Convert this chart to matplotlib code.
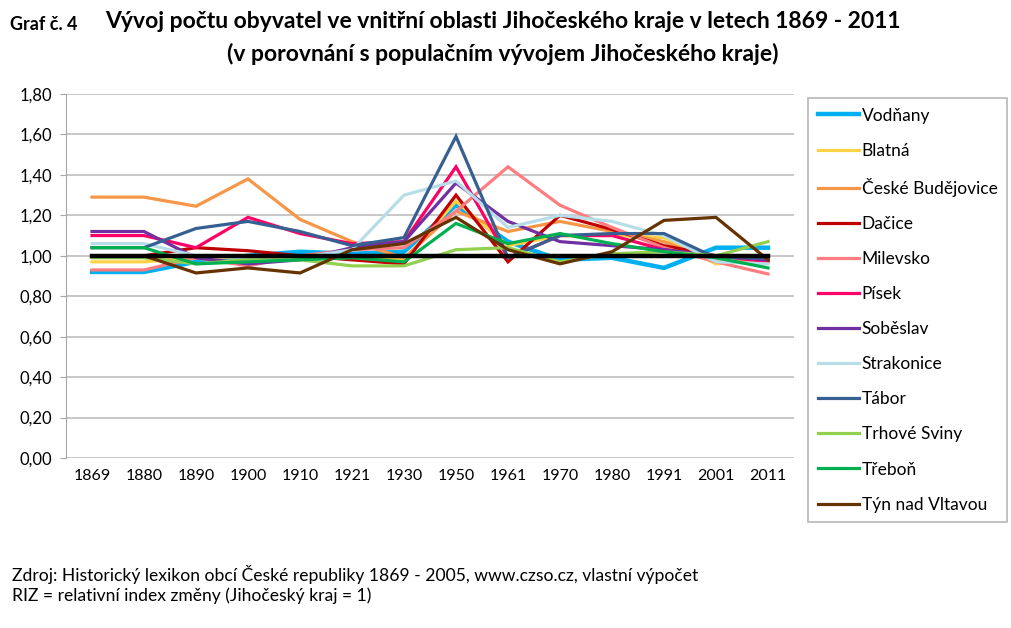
import matplotlib.pyplot as plt
import numpy as np

plt.rcParams['font.family'] = ['Lato', 'DejaVu Sans']

years = ['1869', '1880', '1890', '1900', '1910', '1921', '1930',
         '1950', '1961', '1970', '1980', '1991', '2001', '2011']

vodnany = [0.92, 0.92, 0.97, 1.00, 1.02, 1.01, 1.02, 1.25, 1.07, 0.98, 0.99, 0.94, 1.04, 1.04]
blatna = [0.97, 0.97, 0.99, 0.99, 1.00, 1.00, 0.98, 1.27, 1.05, 1.10, 1.10, 1.09, 0.96, 0.98]
budejovice = [1.29, 1.29, 1.245, 1.38, 1.18, 1.07, 0.99, 1.22, 1.12, 1.17, 1.12, 1.07, 0.97, 0.97]
dacice = [1.00, 1.00, 1.04, 1.025, 1.00, 0.98, 0.96, 1.30, 0.97, 1.20, 1.13, 1.05, 1.00, 0.98]
milevsko = [0.93, 0.93, 0.99, 0.95, 1.00, 1.03, 1.04, 1.22, 1.44, 1.25, 1.14, 1.04, 0.97, 0.91]
pisek = [1.10, 1.10, 1.04, 1.19, 1.11, 1.06, 1.07, 1.44, 0.99, 1.10, 1.10, 1.03, 1.00, 0.97]
sobeslav = [1.12, 1.12, 0.99, 0.96, 0.98, 1.04, 1.07, 1.36, 1.17, 1.07, 1.05, 1.03, 1.00, 0.98]
strakonice = [1.06, 1.06, 1.00, 0.99, 0.99, 1.03, 1.30, 1.37, 1.14, 1.20, 1.17, 1.10, 0.97, 0.96]
tabor = [1.04, 1.04, 1.135, 1.17, 1.12, 1.05, 1.09, 1.59, 0.99, 1.10, 1.11, 1.11, 0.99, 0.99]
trhove_sviny = [0.99, 0.99, 0.96, 0.98, 0.98, 0.95, 0.95, 1.03, 1.04, 0.97, 1.01, 1.02, 1.00, 1.07]
trebon = [1.04, 1.04, 0.96, 0.97, 0.98, 0.99, 0.97, 1.16, 1.06, 1.11, 1.06, 1.02, 0.99, 0.94]
tyn = [1.00, 1.00, 0.915, 0.94, 0.915, 1.03, 1.06, 1.19, 1.03, 0.96, 1.02, 1.175, 1.19, 0.98]
kraj = [1.00] * len(years)

series = [
    ('Vodňany', vodnany, '#00B0F0', 3.2),
    ('Blatná', blatna, '#FFD243', 2.3),
    ('České Budějovice', budejovice, '#F79646', 2.3),
    ('Dačice', dacice, '#C00000', 2.3),
    ('Milevsko', milevsko, '#FF7C80', 2.3),
    ('Písek', pisek, '#FF0066', 2.3),
    ('Soběslav', sobeslav, '#7030A0', 2.3),
    ('Strakonice', strakonice, '#B7DEE8', 2.3),
    ('Tábor', tabor, '#376092', 2.3),
    ('Trhové Sviny', trhove_sviny, '#92D050', 2.3),
    ('Třeboň', trebon, '#00B050', 2.3),
    ('Týn nad Vltavou', tyn, '#663300', 2.3),
]

fig = plt.figure(figsize=(10.12, 6.28), dpi=100)
ax = fig.add_axes([66 / 1012, 170 / 628, 728 / 1012, 364 / 628])

x = np.arange(len(years))
handles = []
for name, vals, col, lw in series:
    h, = ax.plot(x, vals, color=col, lw=lw, label=name, solid_joinstyle='miter')
    handles.append(h)
ax.plot(x, kraj, color='black', lw=3.2, zorder=5)

ax.set_xlim(-0.5, len(years) - 0.5)
ax.set_ylim(0, 1.8)
ax.set_yticks(np.arange(0, 1.81, 0.2))
ax.yaxis.set_major_formatter(plt.FuncFormatter(lambda v, p: ('%.2f' % v).replace('.', ',')))
ax.set_xticks(x)
ax.set_xticklabels(years)
ax.tick_params(axis='x', length=0, pad=8, labelsize=11.5)
ax.tick_params(axis='y', length=4, color='#A6A6A6', pad=6, labelsize=12)
ax.grid(axis='y', color='#BFBFBF', lw=1.2)
ax.set_axisbelow(True)
for s in ['top', 'right', 'bottom']:
    ax.spines[s].set_visible(False)
ax.spines['left'].set_color('#A6A6A6')

leg = fig.legend(handles=handles, loc='upper left',
                 bbox_to_anchor=(808 / 1012, 1 - 98 / 628), borderaxespad=0,
                 fontsize=12.5, frameon=True, fancybox=False, edgecolor='#A6A6A6',
                 labelspacing=1.1, handlelength=2.4, handletextpad=0.15,
                 borderpad=0.55)
leg.get_frame().set_linewidth(1.2)

fig.text(10 / 1012, 1 - 24 / 628, 'Graf č. 4', fontsize=13, fontweight='bold',
         va='center', ha='left')
fig.text(503 / 1012, 1 - 21 / 628,
         'Vývoj počtu obyvatel ve vnitřní oblasti Jihočeského kraje v letech 1869 - 2011',
         fontsize=16.5, fontweight='bold', va='center', ha='center')
fig.text(503 / 1012, 1 - 54 / 628,
         '(v porovnání s populačním vývojem Jihočeského kraje)',
         fontsize=16.5, fontweight='bold', va='center', ha='center')

fig.text(12 / 1012, 1 - 574 / 628,
         'Zdroj: Historický lexikon obcí České republiky 1869 - 2005, www.czso.cz, vlastní výpočet',
         fontsize=12.6, va='center', ha='left')
fig.text(12 / 1012, 1 - 596 / 628, 'RIZ = relativní index změny (Jihočeský kraj = 1)',
         fontsize=12.6, va='center', ha='left')

fig.savefig('out.png', dpi=100)
